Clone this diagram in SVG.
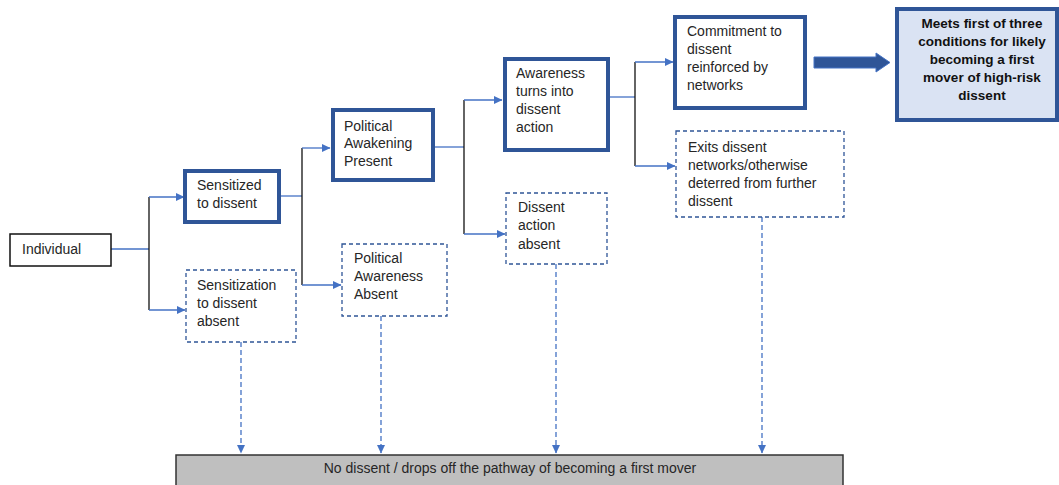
<svg xmlns="http://www.w3.org/2000/svg" width="1059" height="485" viewBox="0 0 1059 485">
  <style>
    text { font-family: "Liberation Sans", Arial, sans-serif; font-size: 14px; fill: #262626; }
    .bold { font-weight: bold; font-size: 13.5px; fill: #111; }
    .plain { fill: #fff; stroke: #111; stroke-width: 1.5; }
    .strong { fill: #fff; stroke: #2F5597; stroke-width: 4; }
    .goal { fill: #DAE3F3; stroke: #2F5597; stroke-width: 4; }
    .absent { fill: #fff; stroke: #2F5597; stroke-width: 1.3; stroke-dasharray: 4 3; }
    .bar { fill: #BFBFBF; stroke: #333; stroke-width: 1.5; }
    .link { fill: none; stroke: #4472C4; stroke-width: 1.3; }
    .trunk { fill: none; stroke: #111; stroke-width: 1.3; }
    .drop { fill: none; stroke: #4472C4; stroke-width: 1.3; stroke-dasharray: 5 3; }
  </style>
  <defs>
    <marker id="tip" markerWidth="9" markerHeight="9" refX="8" refY="4.5" orient="auto" markerUnits="userSpaceOnUse">
      <path d="M0,0.5 L8.5,4.5 L0,8.5 Z" fill="#4472C4"/>
    </marker>
  </defs>

  <g id="connectors">
    <!-- Individual -> sensitization split -->
    <path class="link" d="M111,249 H149"/>
    <path class="trunk" d="M149,197 V310"/>
    <path class="link" d="M149,197 H184" marker-end="url(#tip)"/>
    <path class="link" d="M149,310 H185" marker-end="url(#tip)"/>
    <!-- Sensitized -> political awakening split -->
    <path class="link" d="M280,196 H302"/>
    <path class="trunk" d="M302,148 V285"/>
    <path class="link" d="M302,148 H330" marker-end="url(#tip)"/>
    <path class="link" d="M302,285 H341" marker-end="url(#tip)"/>
    <!-- Political awakening -> action split -->
    <path class="link" d="M434,147 H464"/>
    <path class="trunk" d="M464,100 V234"/>
    <path class="link" d="M464,100 H502" marker-end="url(#tip)"/>
    <path class="link" d="M464,234 H505" marker-end="url(#tip)"/>
    <!-- Action -> commitment split -->
    <path class="link" d="M609,97 H635"/>
    <path class="trunk" d="M635,62 V166"/>
    <path class="link" d="M635,62 H673" marker-end="url(#tip)"/>
    <path class="link" d="M635,166 H675" marker-end="url(#tip)"/>
    <!-- Commitment -> outcome (block arrow) -->
    <path d="M814,57 H876 V53 L890,62.5 L876,72 V68 H814 Z" fill="#2F5597" stroke="#4472C4" stroke-width="1"/>
    <!-- Drop-off paths -->
    <path class="drop" d="M241,342 V453" marker-end="url(#tip)"/>
    <path class="drop" d="M381,316 V453" marker-end="url(#tip)"/>
    <path class="drop" d="M556,264 V453" marker-end="url(#tip)"/>
    <path class="drop" d="M762,217 V453" marker-end="url(#tip)"/>
  </g>

  <g id="individual">
    <rect class="plain" x="10" y="234" width="101" height="32"/>
    <text x="22" y="254">Individual</text>
  </g>

  <g id="sensitized">
    <rect class="strong" x="185" y="171" width="94" height="51"/>
    <text x="197" y="190">Sensitized</text>
    <text x="197" y="208">to dissent</text>
  </g>

  <g id="sensitization-absent">
    <rect class="absent" x="186" y="270" width="110" height="72"/>
    <text x="197" y="290">Sensitization</text>
    <text x="197" y="308">to dissent</text>
    <text x="197" y="326">absent</text>
  </g>

  <g id="political-awakening">
    <rect class="strong" x="333" y="110" width="100" height="70"/>
    <text x="344" y="131">Political</text>
    <text x="344" y="148">Awakening</text>
    <text x="344" y="166">Present</text>
  </g>

  <g id="political-awareness-absent">
    <rect class="absent" x="342" y="244" width="105" height="72"/>
    <text x="354" y="263">Political</text>
    <text x="354" y="281">Awareness</text>
    <text x="354" y="299">Absent</text>
  </g>

  <g id="dissent-action">
    <rect class="strong" x="505" y="59" width="103" height="91"/>
    <text x="516" y="78">Awareness</text>
    <text x="516" y="96">turns into</text>
    <text x="516" y="114">dissent</text>
    <text x="516" y="132">action</text>
  </g>

  <g id="dissent-action-absent">
    <rect class="absent" x="506" y="193" width="101" height="71"/>
    <text x="518" y="212">Dissent</text>
    <text x="518" y="230">action</text>
    <text x="518" y="249">absent</text>
  </g>

  <g id="commitment">
    <rect class="strong" x="675" y="17" width="130" height="91"/>
    <text x="687" y="36">Commitment to</text>
    <text x="687" y="54">dissent</text>
    <text x="687" y="72">reinforced by</text>
    <text x="687" y="90">networks</text>
  </g>

  <g id="exits">
    <rect class="absent" x="676" y="131" width="168" height="86"/>
    <text x="688" y="152">Exits dissent</text>
    <text x="688" y="170">networks/otherwise</text>
    <text x="688" y="188">deterred from further</text>
    <text x="688" y="206">dissent</text>
  </g>

  <g id="first-condition">
    <rect class="goal" x="897" y="9" width="160" height="111"/>
    <text class="bold" x="982" y="28" text-anchor="middle">Meets first of three</text>
    <text class="bold" x="982" y="46" text-anchor="middle">conditions for likely</text>
    <text class="bold" x="982" y="64" text-anchor="middle">becoming a first</text>
    <text class="bold" x="982" y="82" text-anchor="middle">mover of high-risk</text>
    <text class="bold" x="982" y="100" text-anchor="middle">dissent</text>
  </g>

  <g id="no-dissent">
    <rect class="bar" x="176" y="455" width="667" height="40"/>
    <text x="510" y="473" text-anchor="middle">No dissent / drops off the pathway of becoming a first mover</text>
  </g>
</svg>
